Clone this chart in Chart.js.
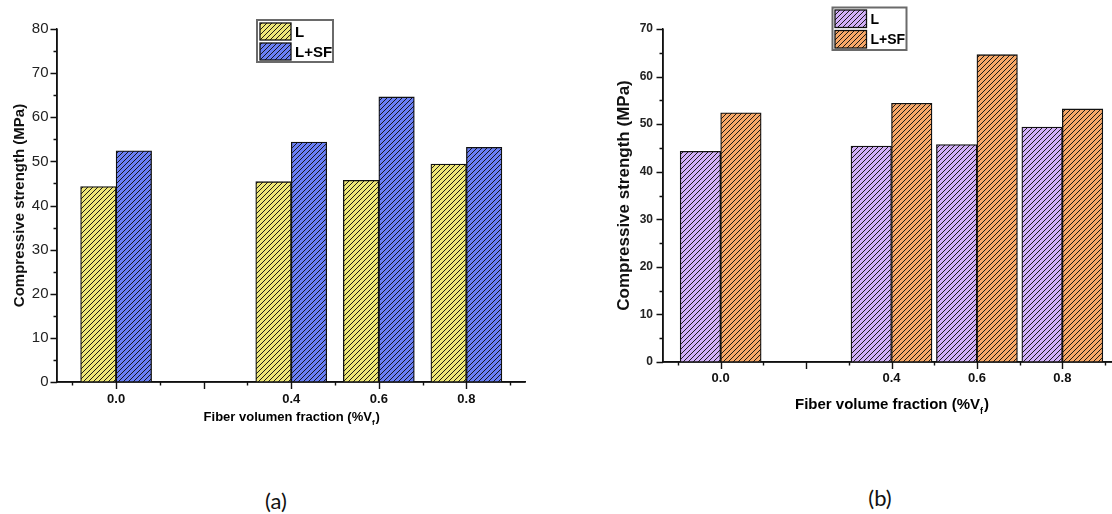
<!DOCTYPE html>
<html>
<head>
<meta charset="utf-8">
<title>Compressive strength vs fiber volume fraction</title>
<script src="https://cdn.jsdelivr.net/npm/chart.js@4.4.1/dist/chart.umd.min.js"></script>
<style>
html, body { margin:0; padding:0; background:#fff; overflow:hidden; }
#wrap { position:relative; width:1112px; height:514px; overflow:hidden; }
#chartA { position:absolute; left:0; top:0; }
#chartB { position:absolute; left:560px; top:0; }
.caption { position:absolute; font-family:Lato, "Open Sans", sans-serif; font-size:22px; color:#111; transform:translate(-50%, -50%); }
</style>
</head>
<body>
<div id="wrap">
	<canvas id="chartA" width="560" height="440"></canvas>
	<canvas id="chartB" width="560" height="440"></canvas>
	<div class="caption" style="left:276px; top:500px">(a)</div>
	<div class="caption" style="left:880px; top:497px">(b)</div>
</div>
<script>
// ---- data (same test results shown in both panels)
var fiberFractions = [0.0, 0.4, 0.6, 0.8];
var fractionLabels = ['0.0', '0.4', '0.6', '0.8'];
var seriesNames    = ['L', 'L+SF'];
var strengthL      = [44.3, 45.4, 45.7, 49.4];
var strengthLSF    = [52.4, 54.4, 64.6, 53.2];
var yTitle         = 'Compressive strength (MPa)';
var xTitleA        = ['Fiber volumen fraction (%V', 'f', ')'];
var xTitleB        = ['Fiber volume fraction (%V', 'f', ')'];

var FONT = '"Liberation Sans", Arial, sans-serif';

// diagonal hatch fill like the Origin pattern
function hatch(color){
	var c = document.createElement('canvas');
	c.width = c.height = 5;
	var g = c.getContext('2d');
	g.fillStyle = color;
	g.fillRect(0, 0, 5, 5);
	g.strokeStyle = '#111';
	g.lineWidth = 0.95;
	g.beginPath();
	g.moveTo(0, 5); g.lineTo(5, 0);
	g.moveTo(-1, 1); g.lineTo(1, -1);
	g.moveTo(4, 6); g.lineTo(6, 4);
	g.stroke();
	return g.createPattern(c, 'repeat');
}

function points(values){
	return fiberFractions.map(function(f, i){ return { x: f, y: values[i] }; });
}

function fractionIndex(v){
	for (var i = 0; i < fiberFractions.length; i++) {
		if (Math.abs(fiberFractions[i] - v) < 1e-6) return i;
	}
	return -1;
}

// major/minor ticks, boxed legend, x title with subscript
var originDecor = {
	id: 'originDecor',
	afterDraw: function(chart, args, o){
		var ctx = chart.ctx,
			area = chart.chartArea,
			sx = chart.scales.x,
			sy = chart.scales.y;

		ctx.save();
		ctx.strokeStyle = '#111';
		ctx.lineWidth = 1.4;
		ctx.beginPath();
		// axis lines again, on top of the bars
		ctx.moveTo(area.left, area.top);
		ctx.lineTo(area.left, area.bottom);
		ctx.lineTo(area.right, area.bottom);
		sx.ticks.forEach(function(t){
			var px = Math.round(sx.getPixelForValue(t.value)) + 0.5;
			var len = (Math.round(t.value * 10) % 2 === 0) ? 7 : 3.5;
			ctx.moveTo(px, area.bottom);
			ctx.lineTo(px, area.bottom + len);
		});
		sy.ticks.forEach(function(t){
			var py = Math.round(sy.getPixelForValue(t.value)) + 0.5;
			var len = (t.value % 10 === 0) ? 6.5 : 3.5;
			ctx.moveTo(area.left, py);
			ctx.lineTo(area.left - len, py);
		});
		ctx.stroke();

		// legend box
		var L = o.legend;
		ctx.fillStyle = '#fff';
		ctx.fillRect(L.x, L.y, L.w, L.h);
		ctx.strokeStyle = '#6a6a6a';
		ctx.lineWidth = 2;
		ctx.strokeRect(L.x, L.y, L.w, L.h);
		chart.data.datasets.forEach(function(ds, i){
			var ry = L.y + L.pad + i * (L.sh + L.gap);
			ctx.fillStyle = ds.backgroundColor;
			ctx.fillRect(L.x + L.pad, ry, L.sw, L.sh);
			ctx.strokeStyle = '#111';
			ctx.lineWidth = 1.3;
			ctx.strokeRect(L.x + L.pad, ry, L.sw, L.sh);
			ctx.fillStyle = '#000';
			ctx.font = 'bold ' + L.font + 'px ' + FONT;
			ctx.textBaseline = 'middle';
			ctx.textAlign = 'left';
			ctx.fillText(ds.label, L.x + L.pad + L.sw + 4, ry + L.sh / 2 + 1);
		});

		// x axis title
		var T = o.xTitle, size = T.size, subSize = Math.round(size * 0.62);
		ctx.fillStyle = '#000';
		ctx.textBaseline = 'alphabetic';
		ctx.font = 'bold ' + size + 'px ' + FONT;
		var w0 = ctx.measureText(T.text[0]).width,
			w2 = ctx.measureText(T.text[2]).width;
		ctx.font = 'bold ' + subSize + 'px ' + FONT;
		var w1 = ctx.measureText(T.text[1]).width;
		var x0 = (area.left + area.right) / 2 - (w0 + w1 + w2) / 2;
		ctx.font = 'bold ' + size + 'px ' + FONT;
		ctx.fillText(T.text[0], x0, T.baseline);
		ctx.fillText(T.text[2], x0 + w0 + w1 + 1, T.baseline);
		ctx.font = 'bold ' + subSize + 'px ' + FONT;
		ctx.fillText(T.text[1], x0 + w0, T.baseline + size * 0.3);
		ctx.restore();
	}
};

function makeChart(id, cfg){
	return new Chart(document.getElementById(id), {
		type: 'bar',
		data: {
			datasets: [
				{ label: seriesNames[0], data: points(strengthL), backgroundColor: hatch(cfg.colors[0]),
				  borderColor: '#111', borderWidth: 1.3, barThickness: cfg.barW },
				{ label: seriesNames[1], data: points(strengthLSF), backgroundColor: hatch(cfg.colors[1]),
				  borderColor: '#111', borderWidth: 1.3, barThickness: cfg.barW }
			]
		},
		options: {
			responsive: false,
			animation: false,
			devicePixelRatio: 1,
			layout: { padding: { left: 0, top: 29, right: cfg.padRight, bottom: 0 } },
			plugins: {
				legend: { display: false },
				tooltip: { enabled: false },
				originDecor: { legend: cfg.legend, xTitle: cfg.xTitle }
			},
			scales: {
				x: {
					type: 'linear', min: -0.135, max: 0.935, offset: false,
					grid: { display: false, drawTicks: false },
					border: { display: true, color: '#111', width: 1.5 },
					ticks: {
						stepSize: 0.1, includeBounds: false, autoSkip: false, maxRotation: 0,
						padding: cfg.xPad, color: '#111',
						font: { family: FONT, size: 13, weight: 'bold' },
						callback: function(v){ var i = fractionIndex(v); return i < 0 ? '' : fractionLabels[i]; }
					},
					afterFit: function(s){ s.height = cfg.xAxisH; }
				},
				y: {
					min: 0, max: cfg.yMax,
					grid: { display: false, drawTicks: false },
					border: { display: true, color: '#111', width: 1.5 },
					ticks: {
						stepSize: 5, autoSkip: false, padding: cfg.yPad, color: '#222',
						font: cfg.yTickFont,
						callback: function(v){ return v % 10 === 0 ? v : ''; }
					},
					title: {
						display: true, text: yTitle, color: '#111',
						font: { family: FONT, size: cfg.yTitleSize, weight: 'bold' },
						padding: { top: cfg.yTitlePad, bottom: 0 }
					},
					afterFit: function(s){ s.width = cfg.yAxisW; }
				}
			}
		},
		plugins: [originDecor]
	});
}

makeChart('chartA', {
	colors: ['#EFE776', '#6A7FF5'],
	barW: 35.5, yMax: 80, padRight: 34.5, xAxisH: 58, yAxisW: 57,
	xPad: 10, yPad: 8.5, yTitleSize: 15, yTitlePad: 11,
	yTickFont: { family: FONT, size: 15 },
	legend: { x: 257, y: 20, w: 76, h: 42, pad: 3, sw: 31, sh: 17, gap: 3, font: 15 },
	xTitle: { text: xTitleA, size: 13, baseline: 421 }
});

makeChart('chartB', {
	colors: ['#D2B0F8', '#F7A868'],
	barW: 40.5, yMax: 70, padRight: 0, xAxisH: 78, yAxisW: 103,
	xPad: 9, yPad: 10, yTitleSize: 17, yTitlePad: 54,
	yTickFont: { family: FONT, size: 12, weight: 'bold' },
	legend: { x: 272.5, y: 7.5, w: 74, h: 42.5, pad: 2.5, sw: 31.5, sh: 17.5, gap: 3, font: 14 },
	xTitle: { text: xTitleB, size: 15, baseline: 409 }
});
</script>
</body>
</html>
